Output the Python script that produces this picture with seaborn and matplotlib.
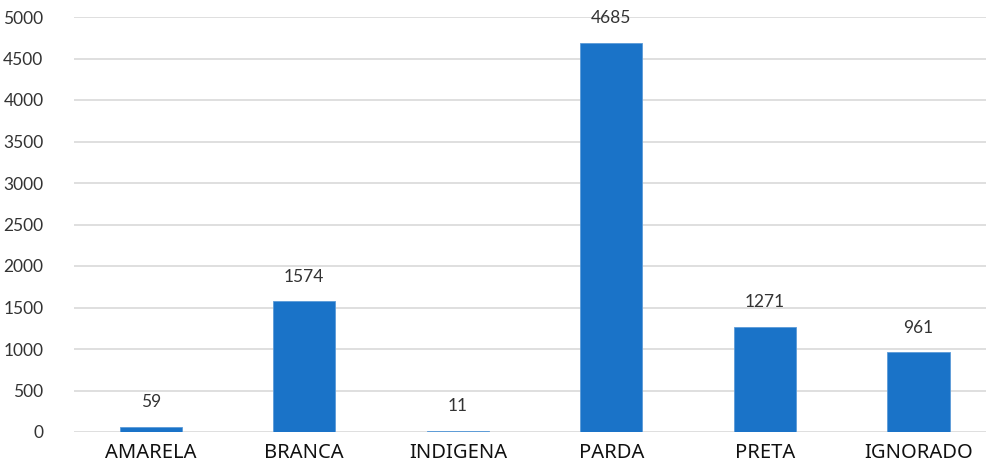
import matplotlib
matplotlib.use("Agg")
import matplotlib.pyplot as plt
import seaborn as sns
import pandas as pd

categories = ["AMARELA", "BRANCA", "INDIGENA", "PARDA", "PRETA", "IGNORADO"]
values = [59, 1574, 11, 4685, 1271, 961]
y_ticks = [0, 500, 1000, 1500, 2000, 2500, 3000, 3500, 4000, 4500, 5000]

sns.set_theme(style="white")
plt.rcParams["font.family"] = ["Lato", "DejaVu Sans"]

df = pd.DataFrame({"cat": categories, "val": values})

fig = plt.figure(figsize=(9.86, 4.66), dpi=100)
ax = fig.add_axes([74 / 986, (466 - 432) / 466, 912 / 986, 415 / 466])

sns.barplot(data=df, x="cat", y="val", color="#1a73c8", width=0.405,
            saturation=1, ax=ax, zorder=3, edgecolor="#5b9bd8", linewidth=0.6)

ax.set_ylim(0, 5000)
ax.set_xlim(-0.5, 5.44)
ax.set_yticks(y_ticks)
ax.set_yticklabels([str(t) for t in y_ticks])
ax.set_xticks(range(len(categories)))
ax.set_xticklabels(categories, fontfamily=["Noto Sans", "DejaVu Sans"],
                   fontsize=14.5, fontweight="light", color="#111111")
ax.yaxis.grid(True, color="#d9d9d9", linewidth=1.2, zorder=0)
ax.set_axisbelow(True)
for s in ax.spines.values():
    s.set_visible(False)
ax.tick_params(axis="y", length=0, pad=22, labelsize=12.5, labelcolor="#333333")
ax.tick_params(axis="x", length=0, pad=8)
ax.set_xlabel("")
ax.set_ylabel("")

for i, v in enumerate(values):
    ax.annotate(str(v), (i, v), xytext=(0, 12), textcoords="offset points",
                ha="center", va="bottom", fontsize=12.5, color="#333333")

fig.savefig("out.png", dpi=100)
